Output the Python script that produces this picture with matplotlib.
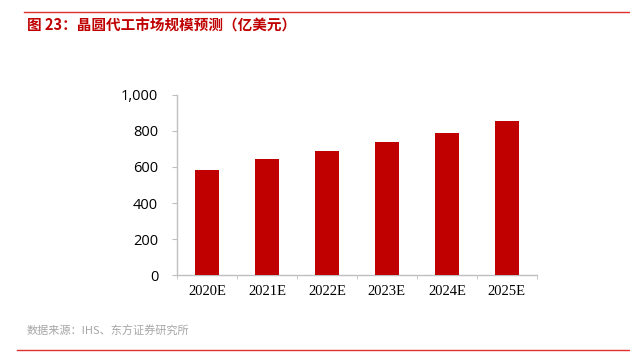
import matplotlib

matplotlib.use("Agg")
import matplotlib.pyplot as plt
from matplotlib.lines import Line2D
from matplotlib.ticker import FuncFormatter, FixedLocator


TAHUN = ["2020E", "2021E", "2022E", "2023E", "2024E", "2025E"]
NILAI = [583, 643, 689, 737, 791, 857]
Y_TICKS = [0, 200, 400, 600, 800, 1000]

JUDUL = "图 23：晶圆代工市场规模预测（亿美元）"
SUMBER = "数据来源：IHS、东方证券研究所"

warna_merah = "#c00000"
warna_garis = "#e03030"
warna_sumbu = "#bfbfbf"

plt.rcParams["font.family"] = ["Noto Sans CJK SC", "DejaVu Sans"]

fig = plt.figure(figsize=(6.3, 3.62), dpi=100)
ax = fig.add_axes([0.281, 0.2403, 0.571, 0.4973])

x = range(len(TAHUN))
ax.bar(x, NILAI, width=0.4, color=warna_merah, zorder=3)

ax.set_xlim(-0.5, len(TAHUN) - 0.5)
ax.set_ylim(0, 1000)
ax.set_yticks(Y_TICKS)
ax.yaxis.set_major_formatter(FuncFormatter(lambda v, p: f"{int(v):,}"))
ax.set_xticks(list(x))
ax.set_xticklabels(TAHUN, family=["Liberation Serif", "DejaVu Serif"], fontsize=10.5)
ax.xaxis.set_minor_locator(FixedLocator([i - 0.5 for i in range(len(TAHUN) + 1)]))
ax.tick_params(axis="x", which="major", length=0, pad=7)
ax.tick_params(axis="x", which="minor", length=3, color=warna_sumbu, direction="out")
ax.tick_params(axis="y", length=3.6, color=warna_sumbu, direction="out", pad=10)
for label in ax.get_yticklabels():
    label.set_family(["Open Sans", "DejaVu Sans"])
    label.set_fontsize(10.5)

for side in ["top", "right"]:
    ax.spines[side].set_visible(False)
for side in ["left", "bottom"]:
    ax.spines[side].set_color(warna_sumbu)
    ax.spines[side].set_linewidth(1)

fig.add_artist(Line2D([24 / 630, 1], [1 - 12 / 362] * 2, color=warna_garis, lw=1))
fig.add_artist(Line2D([17 / 630, 1], [1 - 350 / 362] * 2, color=warna_garis, lw=1))

fig.text(27 / 630, 1 - 25.5 / 362, JUDUL, color=warna_merah, fontsize=10.5,
         fontweight="bold", va="center", ha="left")
fig.text(27 / 630, 1 - 331 / 362, SUMBER, color="#a6a6a6", fontsize=8,
         va="center", ha="left")

fig.savefig("out.png", dpi=100)
plt.close(fig)
